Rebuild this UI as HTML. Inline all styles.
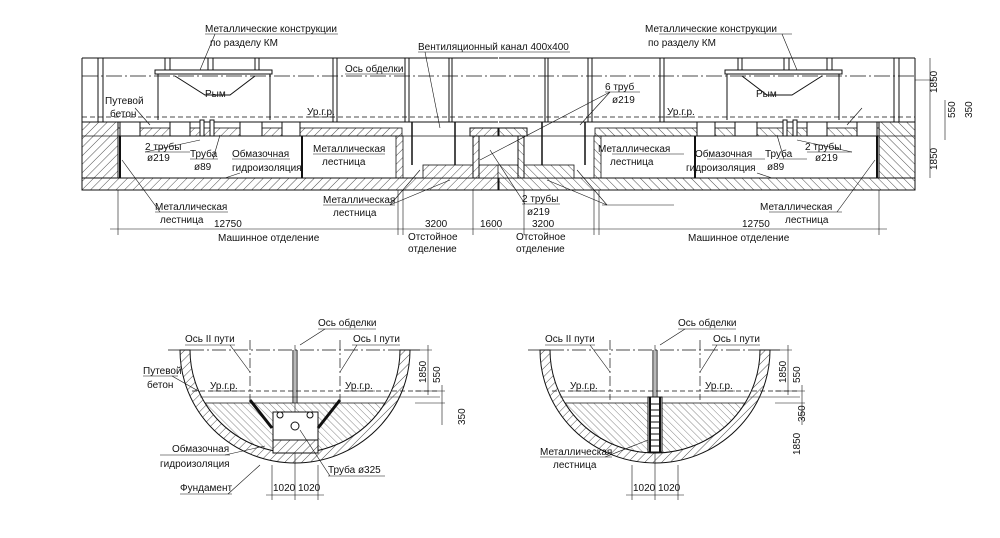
<!DOCTYPE html>
<html><head><meta charset="utf-8"><style>
html,body{margin:0;padding:0;background:#fff}
svg{display:block}
text{font-family:"Liberation Sans",sans-serif;font-size:10px;fill:#111}
</style></head><body>
<svg width="1000" height="538" viewBox="0 0 1000 538" xmlns="http://www.w3.org/2000/svg">
<defs>
<pattern id="h" width="6" height="6" patternUnits="userSpaceOnUse" patternTransform="rotate(45)">
<rect width="6" height="6" fill="#fff"/><line x1="0" y1="0" x2="0" y2="6" stroke="#222" stroke-width="0.8"/></pattern>
<pattern id="h2" width="5" height="5" patternUnits="userSpaceOnUse" patternTransform="rotate(-45)">
<rect width="5" height="5" fill="#fff"/><line x1="0" y1="0" x2="0" y2="5" stroke="#333" stroke-width="0.6"/></pattern>
<g id="half" stroke="#111" fill="none">
 <rect x="82" y="122" width="36" height="56" fill="url(#h)" stroke-width="1"/>
 <rect x="118" y="128" width="284" height="8" fill="url(#h)" stroke-width="0.8"/>
 <rect x="120" y="122" width="20" height="14" fill="#fff"/>
 <rect x="170" y="122" width="20" height="14" fill="#fff"/>
 <rect x="240" y="122" width="22" height="14" fill="#fff"/>
 <rect x="282" y="122" width="18" height="14" fill="#fff"/>
 <line x1="120" y1="136" x2="120" y2="178" stroke-width="2"/>
 <line x1="302" y1="136" x2="302" y2="178" stroke-width="2"/>
 <rect x="396" y="136" width="7" height="42" fill="url(#h)" stroke-width="0.8"/>
 <line x1="82" y1="122" x2="498" y2="122" stroke-width="1"/>
 <line x1="82" y1="136" x2="498" y2="136" stroke-width="0.8"/>
 <line x1="98" y1="58" x2="98" y2="122"/><line x1="103" y1="58" x2="103" y2="122"/>
 <line x1="165" y1="58" x2="165" y2="70"/><line x1="170" y1="58" x2="170" y2="70"/>
 <line x1="208" y1="58" x2="208" y2="70"/><line x1="213" y1="58" x2="213" y2="70"/>
 <line x1="255" y1="58" x2="255" y2="70"/><line x1="259" y1="58" x2="259" y2="70"/>
 <line x1="333" y1="58" x2="333" y2="122"/><line x1="337" y1="58" x2="337" y2="122"/>
 <line x1="405" y1="58" x2="405" y2="122"/><line x1="409" y1="58" x2="409" y2="122"/>
 <line x1="449" y1="58" x2="449" y2="122"/><line x1="452" y1="58" x2="452" y2="122"/>
 <rect x="155" y="70" width="117" height="4" fill="#fff"/>
 <line x1="158" y1="74" x2="158" y2="120"/><line x1="270" y1="74" x2="270" y2="120"/>
 <polyline points="175,76 205,95 230,95 255,76"/>
 <rect x="200" y="120" width="4" height="16" fill="#fff"/><rect x="210" y="120" width="4" height="16" fill="#fff"/>
 <line x1="82" y1="58" x2="82" y2="190"/>
 <line x1="82" y1="58" x2="498" y2="58"/>
 <rect x="82" y="178" width="416" height="12" fill="url(#h)" stroke-width="1"/>
 <rect x="423" y="165" width="76" height="13" fill="url(#h)" stroke-width="0.8"/>
 <line x1="412" y1="122" x2="412" y2="165" stroke-width="1.5"/>
 <line x1="455" y1="122" x2="455" y2="165" stroke-width="1.5"/>
 <rect x="470" y="128" width="28" height="8" fill="url(#h)"/>
 <rect x="473" y="136" width="6" height="42" fill="url(#h)"/>
 <line x1="118" y1="190" x2="118" y2="235" stroke-width="0.6"/>
 <line x1="398" y1="190" x2="398" y2="235" stroke-width="0.6"/>
 <line x1="403" y1="190" x2="403" y2="235" stroke-width="0.6"/>
 <line x1="473" y1="190" x2="473" y2="235" stroke-width="0.6"/>
 <line x1="110" y1="229" x2="498" y2="229" stroke-width="0.6"/>
 <g stroke-width="0.6">
  <line x1="205" y1="34" x2="338" y2="34"/><line x1="215" y1="34" x2="200" y2="70"/>
  <line x1="135" y1="108" x2="150" y2="125"/>
  <line x1="145" y1="152" x2="200" y2="140"/><line x1="145" y1="152" x2="190" y2="152"/>
  <line x1="190" y1="159" x2="218" y2="159"/><line x1="213" y1="159" x2="220" y2="135"/>
  <line x1="232" y1="159" x2="290" y2="159"/><line x1="240" y1="173" x2="225" y2="178"/>
  <line x1="313" y1="154" x2="385" y2="154"/>
  <line x1="155" y1="212" x2="228" y2="212"/><line x1="160" y1="212" x2="122" y2="160"/>
  <line x1="323" y1="205" x2="395" y2="205"/><line x1="390" y1="205" x2="420" y2="170"/><line x1="390" y1="205" x2="450" y2="180"/>
  <line x1="307" y1="117" x2="335" y2="117"/>
 </g>
</g>
<g id="circ" stroke="#111" fill="none">
 <path d="M205,403 L385,403 A105,103 0 0 1 205,403 Z" fill="url(#h2)" stroke-width="0.8"/>
 <path d="M180,350 A115,113 0 0 0 410,350 L400,350 A105,103 0 0 1 190,350 Z" fill="url(#h)"/>
 <line x1="168" y1="350" x2="420" y2="350" stroke-dasharray="14,3,2,3" stroke-width="0.8"/>
 <line x1="192" y1="391" x2="440" y2="391" stroke-dasharray="5,3" stroke-width="0.8"/>
 <line x1="200" y1="397" x2="440" y2="397" stroke-width="0.6"/>
 <line x1="250" y1="340" x2="250" y2="400" stroke-dasharray="10,3,2,3" stroke-width="0.7"/>
 <line x1="340" y1="340" x2="340" y2="400" stroke-dasharray="10,3,2,3" stroke-width="0.7"/>
 <line x1="295" y1="345" x2="295" y2="500" stroke-width="0.6"/>
 <line x1="293" y1="350" x2="293" y2="403" stroke-width="1"/><line x1="297" y1="350" x2="297" y2="403" stroke-width="1"/>
 <line x1="272" y1="465" x2="272" y2="500" stroke-width="0.6"/><line x1="318" y1="465" x2="318" y2="500" stroke-width="0.6"/>
 <line x1="266" y1="495" x2="324" y2="495" stroke-width="0.6"/>
 <line x1="410" y1="350" x2="432" y2="350" stroke-width="0.6"/>
 <line x1="415" y1="391" x2="445" y2="391" stroke-width="0.6"/>
 <line x1="415" y1="403" x2="445" y2="403" stroke-width="0.6"/>
 <line x1="428" y1="345" x2="428" y2="395" stroke-width="0.6"/>
 <line x1="442" y1="385" x2="442" y2="425" stroke-width="0.6"/>
 <g stroke-width="0.6">
  <line x1="185" y1="345" x2="235" y2="345"/><line x1="230" y1="345" x2="250" y2="372"/>
  <line x1="352" y1="345" x2="400" y2="345"/><line x1="357" y1="345" x2="340" y2="372"/>
  <line x1="318" y1="329" x2="376" y2="329"/><line x1="325" y1="329" x2="300" y2="345"/>
  <line x1="210" y1="391" x2="240" y2="391"/><line x1="345" y1="391" x2="375" y2="391"/>
 </g>
</g>
</defs>
<rect width="1000" height="538" fill="#fff"/>
<use href="#half"/>
<use href="#half" transform="translate(997,0) scale(-1,1)"/>
<line x1="82" y1="76" x2="915" y2="76" stroke="#111" stroke-width="0.8" stroke-dasharray="16,3,2,3"/>
<line x1="82" y1="117" x2="915" y2="117" stroke="#111" stroke-width="0.8" stroke-dasharray="5,3"/>
<line x1="915" y1="80" x2="935" y2="80" stroke="#111" stroke-width="0.6"/>
<line x1="930" y1="58" x2="930" y2="178" stroke="#111" stroke-width="0.6"/>
<line x1="945" y1="100" x2="945" y2="140" stroke="#111" stroke-width="0.6"/>
<g stroke="#111" stroke-width="0.6">
 <line x1="418" y1="52" x2="570" y2="52"/><line x1="425" y1="52" x2="440" y2="128"/>
 <line x1="605" y1="92" x2="640" y2="92"/><line x1="610" y1="92" x2="480" y2="160"/><line x1="610" y1="92" x2="580" y2="125"/>
 <line x1="522" y1="204" x2="560" y2="204"/><line x1="525" y1="204" x2="490" y2="150"/>
 <line x1="345" y1="74" x2="405" y2="74"/>
</g>
<use href="#circ"/>
<g stroke="#111" fill="none">
 <rect x="273" y="412" width="45" height="28" fill="#fff"/>
 <rect x="273" y="440" width="45" height="13" fill="url(#h)"/>
 <circle cx="280" cy="415" r="3"/><circle cx="310" cy="415" r="3"/><circle cx="295" cy="426" r="4"/>
 <line x1="250" y1="400" x2="272" y2="428" stroke-width="3"/><line x1="340" y1="400" x2="318" y2="428" stroke-width="3"/>
 <g stroke-width="0.6">
  <line x1="143" y1="376" x2="178" y2="376"/><line x1="172" y1="376" x2="200" y2="392"/>
  <line x1="160" y1="455" x2="230" y2="455"/><line x1="225" y1="455" x2="265" y2="446"/>
  <line x1="180" y1="494" x2="232" y2="494"/><line x1="228" y1="494" x2="260" y2="465"/>
  <line x1="328" y1="476" x2="385" y2="476"/><line x1="330" y1="476" x2="300" y2="430"/>
 </g>
</g>
<use href="#circ" transform="translate(360,0)"/>
<g stroke="#111" fill="none">
 <rect x="648" y="397" width="14" height="55" fill="#fff"/>
 <line x1="650" y1="397" x2="650" y2="452" stroke-width="2"/><line x1="660" y1="397" x2="660" y2="452" stroke-width="2"/>
 <path d="M650,404h10M650,410h10M650,416h10M650,422h10M650,428h10M650,434h10M650,440h10M650,446h10"/>
 <line x1="540" y1="457" x2="612" y2="457" stroke-width="0.6"/><line x1="605" y1="457" x2="648" y2="440" stroke-width="0.6"/>
</g>
<g>
<text x="205" y="32">Металлические конструкции</text>
<text x="210" y="46">по разделу КМ</text>
<text x="645" y="32">Металлические конструкции</text>
<text x="648" y="46">по разделу КМ</text>
<text x="418" y="50">Вентиляционный канал 400x400</text>
<text x="345" y="72">Ось обделки</text>
<text x="205" y="97">Рым</text><text x="756" y="97">Рым</text>
<text x="105" y="104">Путевой</text><text x="110" y="117">бетон</text>
<text x="307" y="115">Ур.г.р.</text><text x="667" y="115">Ур.г.р.</text>
<text x="605" y="90">6 труб</text><text x="612" y="103">ø219</text>
<text x="145" y="150">2 трубы</text><text x="147" y="161">ø219</text>
<text x="190" y="157">Труба</text><text x="194" y="170">ø89</text>
<text x="232" y="157">Обмазочная</text><text x="232" y="171">гидроизоляция</text>
<text x="313" y="152">Металлическая</text><text x="322" y="165">лестница</text>
<text x="598" y="152">Металлическая</text><text x="610" y="165">лестница</text>
<text x="695" y="157">Обмазочная</text><text x="686" y="171">гидроизоляция</text>
<text x="765" y="157">Труба</text><text x="767" y="170">ø89</text>
<text x="805" y="150">2 трубы</text><text x="815" y="161">ø219</text>
<text x="155" y="210">Металлическая</text><text x="160" y="223">лестница</text>
<text x="323" y="203">Металлическая</text><text x="333" y="216">лестница</text>
<text x="522" y="202">2 трубы</text><text x="527" y="215">ø219</text>
<text x="760" y="210">Металлическая</text><text x="785" y="223">лестница</text>
<text x="214" y="227" font-size="11">12750</text>
<text x="425" y="227" font-size="11">3200</text>
<text x="480" y="227" font-size="11">1600</text>
<text x="532" y="227" font-size="11">3200</text>
<text x="742" y="227" font-size="11">12750</text>
<text x="218" y="241">Машинное отделение</text>
<text x="408" y="240">Отстойное</text><text x="408" y="252">отделение</text>
<text x="516" y="240">Отстойное</text><text x="516" y="252">отделение</text>
<text x="688" y="241">Машинное отделение</text>
<text x="937" y="93" transform="rotate(-90 937 93)">1850</text>
<text x="955" y="118" transform="rotate(-90 955 118)">550</text>
<text x="972" y="118" transform="rotate(-90 972 118)">350</text>
<text x="937" y="170" transform="rotate(-90 937 170)">1850</text>
<text x="318" y="326">Ось обделки</text>
<text x="185" y="342">Ось II пути</text><text x="353" y="342">Ось I пути</text>
<text x="143" y="374">Путевой</text><text x="147" y="388">бетон</text>
<text x="210" y="389">Ур.г.р.</text><text x="345" y="389">Ур.г.р.</text>
<text x="172" y="452">Обмазочная</text><text x="160" y="467">гидроизоляция</text>
<text x="180" y="491">Фундамент</text>
<text x="328" y="473">Труба ø325</text>
<text x="273" y="491">1020</text><text x="298" y="491">1020</text>
<text x="678" y="326">Ось обделки</text>
<text x="545" y="342">Ось II пути</text><text x="713" y="342">Ось I пути</text>
<text x="570" y="389">Ур.г.р.</text><text x="705" y="389">Ур.г.р.</text>
<text x="540" y="455">Металлическая</text><text x="553" y="468">лестница</text>
<text x="633" y="491">1020</text><text x="658" y="491">1020</text>
<text x="426" y="383" transform="rotate(-90 426 383)">1850</text>
<text x="440" y="383" transform="rotate(-90 440 383)">550</text>
<text x="465" y="425" transform="rotate(-90 465 425)">350</text>
<text x="786" y="383" transform="rotate(-90 786 383)">1850</text>
<text x="800" y="383" transform="rotate(-90 800 383)">550</text>
<text x="805" y="422" transform="rotate(-90 805 422)">350</text>
<text x="800" y="455" transform="rotate(-90 800 455)">1850</text>
</g>
</svg>
</body></html>
